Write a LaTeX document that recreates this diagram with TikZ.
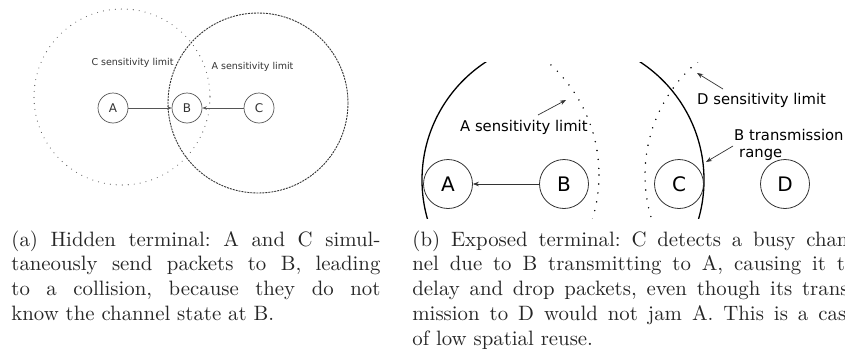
\documentclass[tikz,border=0pt]{standalone}
\usepackage{fontspec}
\newfontfamily\lbl{DejaVu Sans}
\usetikzlibrary{arrows.meta}
\definecolor{lgray}{HTML}{555555}
\definecolor{tgray}{HTML}{333333}
\tikzset{
  lnode/.style={circle,draw=lgray,line width=0.7pt,minimum size=30pt,inner sep=0pt,font=\lbl\fontsize{12}{12}\selectfont,text=tgray},
  rnode/.style={circle,draw=tgray,line width=0.8pt,minimum size=49pt,inner sep=0pt,font=\lbl\fontsize{20}{20}\selectfont},
  llabel/.style={font=\lbl\fontsize{9.5}{10}\selectfont,text=tgray,inner sep=0pt},
  rlabel/.style={font=\lbl\fontsize{14.8}{16}\selectfont,inner sep=0pt,anchor=base west},
  larrow/.style={draw=lgray,line width=0.6pt,-{Stealth[length=4.5pt,width=3.5pt]}},
  rarrow/.style={draw=tgray,line width=0.7pt,-{Stealth[length=6pt,width=4.5pt]}},
  dotline/.style={line cap=round,dash pattern=on 0pt off #1},
  capt/.style={anchor=base west,inner sep=0pt,scale=2.08,text=black!85},
}
\begin{document}
\begin{tikzpicture}[x=1pt,y=-1pt]
\useasboundingbox (0,0) rectangle (845,351);
\clip (0,0) rectangle (845,351);
% ---- panel (a)
\draw[lgray,line width=1.1pt,dotline=6pt] (122,97) circle[radius=88];
\draw[tgray,line width=0.9pt,dash pattern=on 2pt off 1pt] (258,103) circle[radius=90];
\node[lnode] (a1) at (113,108) {A};
\node[lnode] (b1) at (187,108) {B};
\node[lnode] (c1) at (259,108) {C};
\draw[larrow] (a1) -- (b1);
\draw[larrow] (c1) -- (b1);
\node[llabel] (csl) at (132.5,63) {C sensitivity limit};
\node[llabel] (asl) at (252.5,67) {A sensitivity limit};
% ---- panel (b)
\begin{scope}
\clip (400,62) rectangle (845,218);
\draw[black,line width=1.3pt] (563,180) circle[radius=141];
\draw[black,line width=1.6pt,dotline=9pt] (449,175) circle[radius=150];
\draw[black,line width=1.6pt,dotline=9pt] (793,175) circle[radius=148];
\end{scope}
\node[rnode] (a2) at (448,184) {A};
\node[rnode] (b2) at (564,184) {B};
\node[rnode] (c2) at (679,184) {C};
\node[rnode] (d2) at (785,184) {D};
\draw[rarrow] (b2) -- (a2);
\node[rlabel] (asl2) at (460,131) {A sensitivity limit};
\node[rlabel] (dsl2) at (697,104) {D sensitivity limit};
\node[rlabel] (btr) at (734,140) {B transmission};
\node[rlabel] (rng) at (739,157) {range};
\coordinate (p1s) at (538,115); \coordinate (p1e) at (566,100);
\coordinate (p2s) at (723,89);  \coordinate (p2e) at (697,73);
\coordinate (p3s) at (733,146); \coordinate (p3e) at (706,162);
\draw[rarrow] (p1s) -- (p1e);
\draw[rarrow] (p2s) -- (p2e);
\draw[rarrow] (p3s) -- (p3e);
% ---- captions
\node[capt] (capa) at (11,246) {\parbox[t]{177.4pt}{\fontsize{10}{12}\selectfont\frenchspacing
(a) Hidden terminal: A and C simul-\linebreak taneously send packets to B, leading\linebreak to a collision, because they do not\linebreak know the channel state at B.}};
\node[capt] (capb) at (412,246) {\parbox[t]{213pt}{\fontsize{10}{12}\selectfont\frenchspacing
(b) Exposed terminal: C detects a busy chan-\linebreak nel due to B transmitting to A, causing it to\linebreak delay and drop packets, even though its trans-\linebreak mission to D would not jam A. This is a case\linebreak of low spatial reuse.}};
\end{tikzpicture}
\end{document}
